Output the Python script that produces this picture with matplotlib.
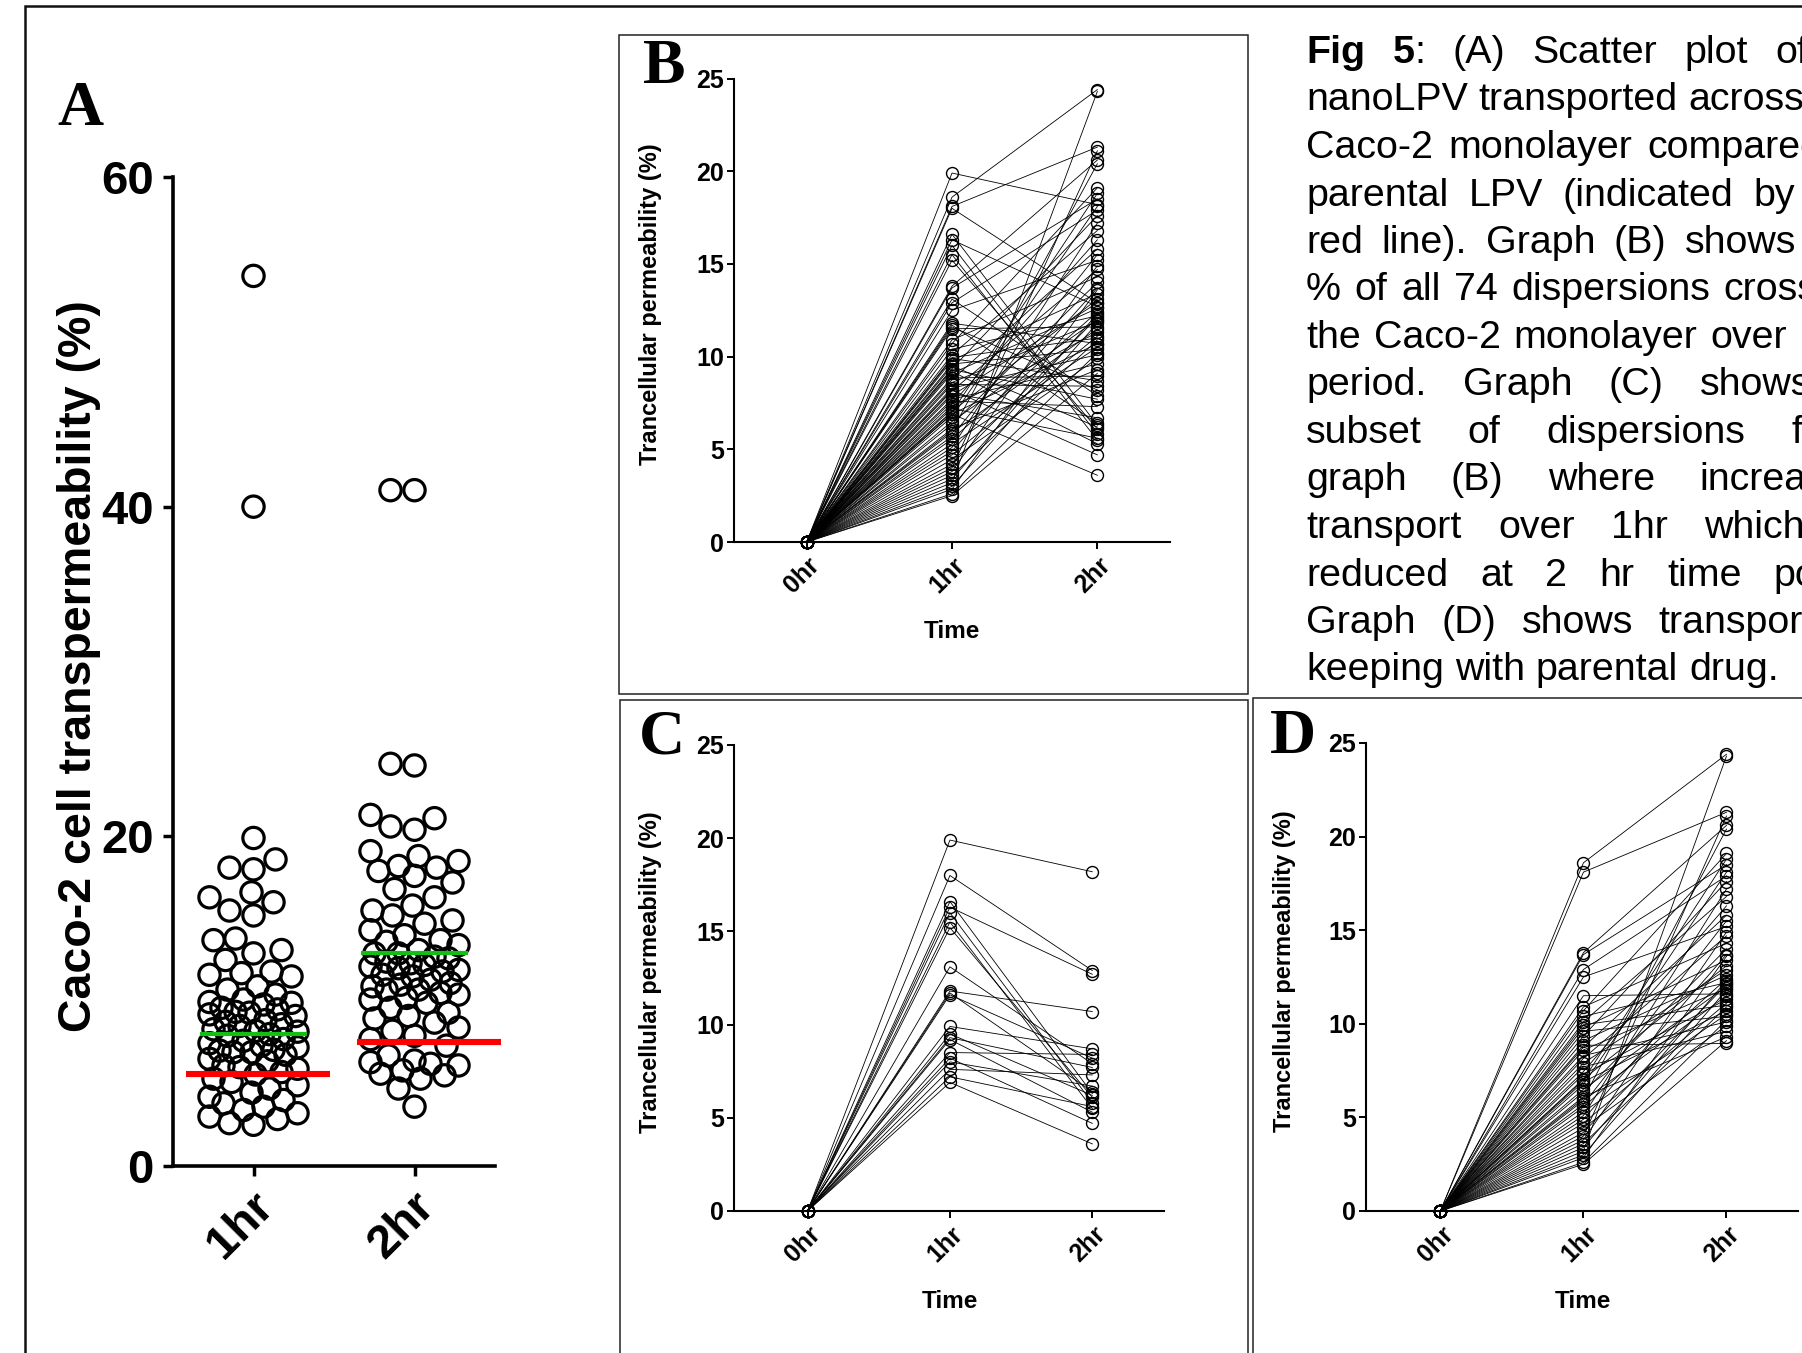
import numpy as np
import matplotlib
matplotlib.use("Agg")
import matplotlib.pyplot as plt
from matplotlib.patches import Rectangle
from matplotlib.transforms import ScaledTranslation

# ---------------- data ----------------
# transcellular permeability (%) of each nanoLPV dispersion, 1hr and 2hr
# (first two pairs are the high outliers, only visible in panel A)
hr1 = [54.0, 40.0,
       19.9, 18.0, 16.6, 16.3, 16.0, 15.5, 15.2, 13.1, 11.8, 11.7, 11.6,
       9.9, 9.5, 9.3, 9.2, 8.5, 8.2, 8.0, 7.6, 7.2, 6.9,
       18.6, 18.1, 13.8, 13.7, 12.9, 12.5, 11.5, 10.9, 10.7, 10.4,
       10.1, 9.95, 9.8, 9.6, 9.35, 9.1, 8.85, 8.75, 8.6, 8.3,
       8.15, 7.9, 7.7, 7.45, 7.3, 7.05, 6.9, 6.75, 6.5, 6.35,
       6.1, 5.9, 5.7, 5.55, 5.3, 5.1, 4.9, 4.7, 4.45, 4.2,
       4.0, 3.8, 3.6, 3.4, 3.2, 3.0, 2.85, 2.6, 2.5, 6.0, 7.0]
hr2 = [41.0, 41.0,
       18.2, 12.9, 6.3, 12.7, 5.8, 5.5, 6.1, 7.9, 10.7, 6.4, 8.2,
       8.7, 6.2, 7.7, 5.3, 8.4, 4.7, 6.7, 7.3, 5.6, 3.6,
       24.4, 21.3, 20.6, 18.5, 17.9, 15.2, 11.6, 14.3, 19.1, 12.2,
       16.8, 11.0, 13.4, 10.4, 17.6, 12.6, 8.95, 15.8, 11.9, 10.1,
       14.7, 12.9, 9.6, 16.3, 11.3, 13.1, 10.7, 18.1, 12.0, 14.0,
       9.3, 11.5, 15.5, 12.4, 10.5, 17.2, 13.7, 11.1, 9.9, 12.1,
       21.1, 14.9, 10.9, 12.3, 24.3, 11.8, 13.6, 10.2, 9.1, 20.4, 18.8]

group_labels = ["1hr", "2hr"]
time_labels = ["0hr", "1hr", "2hr"]
nano_line = [8.0, 12.9]      # green line, nanoLPV
parental_line = [5.6, 7.5]   # red line, parental LPV

caption_lines = [
    "Fig 5: (A) Scatter plot of %",
    "nanoLPV transported across the",
    "Caco-2 monolayer compared to",
    "parental LPV (indicated by the",
    "red line). Graph (B) shows the",
    "% of all 74 dispersions crossing",
    "the Caco-2 monolayer over 2 hr",
    "period. Graph (C) shows a",
    "subset of dispersions from",
    "graph (B) where increased",
    "transport over 1hr which is",
    "reduced at 2 hr time point.",
    "Graph (D) shows transport in",
    "keeping with parental drug.",
]

# ---------------- layout (pixels of the 1802x1353 canvas) ----------------
W, H = 1802, 1353
DPI = 100
SANS = "Liberation Sans"
SERIF = "Liberation Serif"
plt.rcParams["font.family"] = SANS


def fx(px):
    return px / W


def fy(py):
    return 1 - py / H


def axes_px(left, top, right, bottom):
    return [left / W, 1 - bottom / H, (right - left) / W, (bottom - top) / H]


def frame(fig, left, top, right, bottom, lw, color):
    fig.add_artist(Rectangle((fx(left), fy(bottom)), (right - left) / W, (bottom - top) / H,
                             transform=fig.transFigure, fill=False, lw=lw, ec=color))


def swarm_offsets(vals, xpx, ypx, dmin, maxoff, step=2.0):
    """simple beeswarm in pixel space, returns offsets in data units"""
    vals = np.asarray(vals, dtype=float)
    cands = [0.0]
    k = 1
    while k * step <= maxoff:
        cands += [-k * step, k * step]
        k += 1
    placed = []
    offs = np.zeros(len(vals))
    for i in np.argsort(vals):
        y = vals[i] * ypx
        best, bestd = 0.0, -1.0
        for c in cands:
            d = min([np.hypot(c - px, y - py) for px, py in placed], default=1e9)
            if d >= dmin:
                best = c
                break
            if d > bestd:
                bestd, best = d, c
        offs[i] = best
        placed.append((best, y))
    return offs / xpx


fig = plt.figure(figsize=(W / DPI, H / DPI), dpi=DPI)

# frames
frame(fig, 25, 6, 1950, 1500, 1.8, "#111111")
frame(fig, 619, 35, 1248, 694, 1.1, "#222222")
frame(fig, 620, 700, 1248, 1500, 1.1, "#222222")
frame(fig, 1253, 698, 1950, 1500, 1.1, "#222222")

# ================= Panel A =================
A_box = (173, 177, 495, 1166)
axA = fig.add_axes(axes_px(*A_box))
axA.set_xlim(0.5, 2.5)
axA.set_ylim(0, 60)
xpx = (A_box[2] - A_box[0]) / 2.0
ypx = (A_box[3] - A_box[1]) / 60.0
for gi, vals in enumerate([hr1, hr2]):
    off = swarm_offsets(vals, xpx, ypx, dmin=23, maxoff=44)
    axA.scatter(gi + 1 + off, vals, s=235, facecolors="none", edgecolors="black",
                linewidths=2.3, zorder=2, clip_on=False)
for gi in range(2):
    c = gi + 1
    axA.plot([c - 0.33, c + 0.33], [nano_line[gi]] * 2, color="#11c011", lw=3.0,
             solid_capstyle="butt", zorder=3)
red_centres = [1.03, 2.09]
for gi in range(2):
    c = red_centres[gi]
    axA.plot([c - 0.447, c + 0.447], [parental_line[gi]] * 2, color="#ff0000", lw=4.4,
             solid_capstyle="butt", zorder=4, clip_on=False)

for s in ["top", "right"]:
    axA.spines[s].set_visible(False)
for s in ["left", "bottom"]:
    axA.spines[s].set_linewidth(2.6)
axA.set_yticks([0, 20, 40, 60])
axA.set_yticklabels(["0", "20", "40", "60"], fontsize=34, fontweight="bold")
axA.set_xticks([1, 2])
axA.set_xticklabels(group_labels, fontsize=34, fontweight="bold", rotation=45,
                    ha="right", rotation_mode="anchor")
axA.tick_params(axis="both", length=7, width=2.5, pad=7)
axA.tick_params(axis="x", pad=6)
for lab in axA.get_xticklabels():
    lab.set_transform(lab.get_transform() + ScaledTranslation(-2 / 72, 0, fig.dpi_scale_trans))

fig.text(fx(79), fy(666), "Caco-2 cell transpermeability (%)", rotation=90,
         ha="center", va="center", fontsize=33.5, fontweight="bold")
fig.text(fx(57), fy(125), "A", family=SERIF, fontweight="bold", fontsize=46,
         ha="left", va="baseline")

# ================= Panels B, C, D =================
pairs = [(a, b) for a, b in zip(hr1, hr2) if max(a, b) <= 25]
pairs_C = [p for p in pairs if p[1] < p[0]]
pairs_D = [p for p in pairs if p[1] >= p[0]]


def trajectory_panel(box, xlim, data, letter, letter_pos, ylab_pos, time_pos):
    ax = fig.add_axes(axes_px(*box))
    for a, b in data:
        ax.plot([0, 1, 2], [0, a, b], color="black", lw=0.6, marker="o", ms=8.6,
                mfc="none", mec="black", mew=1.0, clip_on=False)
    ax.set_xlim(*xlim)
    ax.set_ylim(0, 25)
    for s in ["top", "right"]:
        ax.spines[s].set_visible(False)
    for s in ["left", "bottom"]:
        ax.spines[s].set_linewidth(1.5)
    ax.set_yticks([0, 5, 10, 15, 20, 25])
    ax.set_yticklabels(["0", "5", "10", "15", "20", "25"], fontsize=18, fontweight="bold")
    ax.set_xticks([0, 1, 2])
    ax.set_xticklabels(time_labels, fontsize=18, fontweight="bold", rotation=45,
                       ha="right", rotation_mode="anchor")
    ax.tick_params(axis="both", length=5, width=1.4, pad=2)
    ax.tick_params(axis="x", pad=3)
    for lab in ax.get_xticklabels():
        lab.set_transform(lab.get_transform() + ScaledTranslation(0.5 / 72, 0, fig.dpi_scale_trans))
    fig.text(fx(ylab_pos[0]), fy(ylab_pos[1]), "Trancellular permeability (%)", rotation=90,
             ha="center", va="center", fontsize=17, fontweight="bold")
    fig.text(fx(time_pos[0]), fy(time_pos[1]), "Time", ha="center", va="center",
             fontsize=17.5, fontweight="bold")
    fig.text(fx(letter_pos[0]), fy(letter_pos[1]), letter, family=SERIF, fontweight="bold",
             fontsize=46, ha="left", va="baseline")
    return ax


trajectory_panel((734, 78.5, 1170, 542), (-0.5, 2.5), pairs, "B", (643, 83), (651, 304), (952, 632))
trajectory_panel((733.5, 745, 1163.5, 1211), (-0.52, 2.5), pairs_C, "C", (639, 754), (651, 972), (950, 1301))
trajectory_panel((1366, 743, 1798, 1211), (-0.52, 2.5), pairs_D, "D", (1270, 753), (1285, 971), (1583, 1301))

# ================= Caption (justified, runs off the right edge) =================
CAP_FS = 28.4
cap_left, cap_right = 1306, 1870
first_base, line_step = 63, 47.5
renderer = fig.canvas.get_renderer()


def text_width(s, weight):
    t = fig.text(0, 0, s, fontsize=CAP_FS, fontweight=weight)
    w = t.get_window_extent(renderer).width
    t.remove()
    return w


space_w = 0.278 * CAP_FS * DPI / 72
for i, line in enumerate(caption_lines):
    words = []
    for w in line.split(" "):
        if i == 0 and w == "Fig":
            words.append([(w, "bold")])
        elif i == 0 and w == "5:":
            words.append([("5", "bold"), (":", "normal")])
        else:
            words.append([(w, "normal")])
    widths = [sum(text_width(s, wt) for s, wt in segs) for segs in words]
    if i == len(caption_lines) - 1:
        gap = space_w
    else:
        gap = max((cap_right - cap_left - sum(widths)) / (len(words) - 1), 0.8 * space_w)
    x = cap_left
    yb = first_base + i * line_step
    for segs, wd in zip(words, widths):
        xs = x
        for s, wt in segs:
            fig.text(fx(xs), fy(yb), s, fontsize=CAP_FS, fontweight=wt, ha="left", va="baseline")
            xs += text_width(s, wt)
        x += wd + gap

fig.savefig("out.png", dpi=DPI)
